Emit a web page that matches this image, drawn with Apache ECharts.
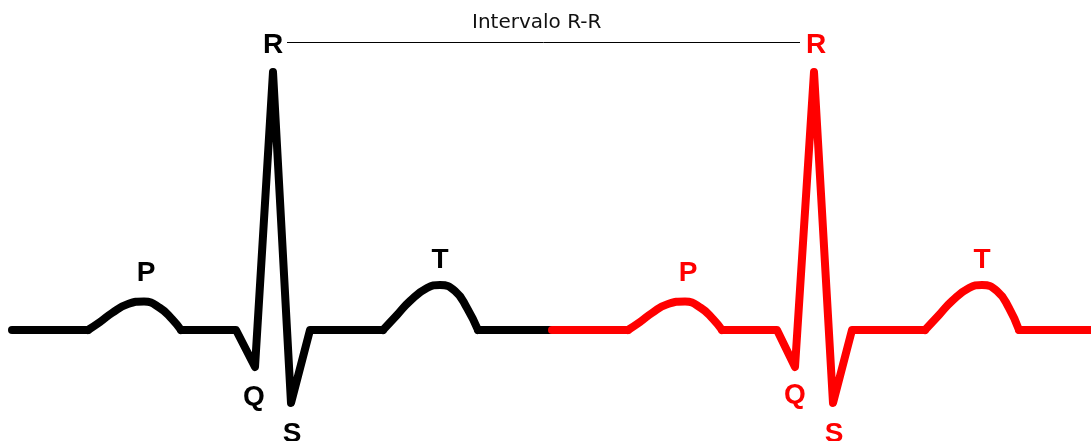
<!DOCTYPE html>
<html>
<head>
<meta charset="utf-8">
<script src="https://cdn.jsdelivr.net/npm/echarts@6/dist/echarts.min.js"></script>
<style>
  html, body { margin: 0; padding: 0; background: #fff; }
  #chart { width: 1091px; height: 441px; }
</style>
</head>
<body>
<div id="chart"></div>
<script>
// ECG trace pieces, [time, amplitude] (amplitude 0 = baseline)
// first beat (black)
var lead1 = [[12, 0], [88, 0]]
var pWave1 = [[88, 0], [100, 8], [112, 17], [128, 26], [144, 28.5], [160, 22], [172, 11], [181, 0]]
var qrs1 = [[181, 0], [236, 0], [255, -37], [273, 258], [291, -73], [310, 0], [383, 0]]
var tWave1 = [[383, 0], [397, 15], [410, 29], [427, 42], [440, 45], [455, 39], [467, 22], [478, 0]]
var tail1 = [[478, 0], [552, 0]]
// second beat (red)
var lead2 = [[552, 0], [628, 0]]
var pWave2 = [[628, 0], [640, 8], [652, 17], [668, 26], [685, 28.5], [701, 22], [713, 11], [722, 0]]
var qrs2 = [[722, 0], [777, 0], [795, -37], [814, 258], [833, -73], [852, 0], [925, 0]]
var tWave2 = [[925, 0], [939, 15], [952, 29], [969, 42], [982, 45], [997, 39], [1009, 22], [1019, 0]]
var tail2 = [[1019, 0], [1091, 0]]
// wave landmarks for the letters
var waveNames = ['P', 'Q', 'R', 'S', 'T']
var waves1 = [[144, 28.5], [255, -37], [273, 258], [291, -73], [440, 45]]
var waves2 = [[685, 28.5], [795, -37], [814, 258], [833, -73], [982, 45]]
// R-R interval line
var rrLine = [[287, 287.5], [800, 287.5]]
var rrTitle = 'Intervalo R-R'

var offsets1 = [[2, -28], [-1, 30], [0, -27], [1, 31], [0, -25]]
var offsets2 = [[3, -28], [0, 28], [2, -27], [1, 31], [0, -25]]

function letters (points, offsets, color) {
  return {
    type: 'scatter',
    symbolSize: 0,
    silent: true,
    itemStyle: { opacity: 1, color: color },
    data: points.map(function (p, i) {
      return {
        value: p,
        name: waveNames[i],
        label: { offset: offsets[i] }
      }
    }),
    label: {
      show: true,
      position: 'inside',
      formatter: '{b}',
      color: color,
      opacity: 1,
      fontFamily: '"Liberation Sans", Arial, sans-serif',
      fontWeight: 'bold',
      fontSize: 28
    }
  }
}

function trace (data, color, smooth) {
  return {
    type: 'line',
    data: data,
    smooth: smooth ? 0.5 : false,
    showSymbol: false,
    silent: true,
    clip: false,
    lineStyle: { color: color, width: 8, cap: 'round', join: 'round' }
  }
}

var chart = echarts.init(document.getElementById('chart'))
chart.setOption({
  backgroundColor: '#ffffff',
  animation: false,
  title: {
    text: rrTitle,
    left: 472,
    top: 13,
    padding: 0,
    textStyle: {
      fontFamily: '"DejaVu Sans", Verdana, sans-serif',
      fontWeight: 'normal',
      fontSize: 20,
      color: '#111'
    }
  },
  grid: { left: 0, right: 0, top: 0, bottom: 0 },
  xAxis: { type: 'value', min: 0, max: 1091, show: false },
  yAxis: { type: 'value', min: -111, max: 330, show: false },
  series: [
    {
      type: 'line',
      data: rrLine,
      showSymbol: false,
      silent: true,
      lineStyle: { color: '#000', width: 1 }
    },
    trace(lead1, '#000000'),
    trace(pWave1, '#000000', true),
    trace(qrs1, '#000000'),
    trace(tWave1, '#000000', true),
    trace(tail1, '#000000'),
    trace(lead2, '#ff0000'),
    trace(pWave2, '#ff0000', true),
    trace(qrs2, '#ff0000'),
    trace(tWave2, '#ff0000', true),
    trace(tail2, '#ff0000'),
    letters(waves1, offsets1, '#000000'),
    letters(waves2, offsets2, '#ff0000')
  ]
})
</script>
</body>
</html>
